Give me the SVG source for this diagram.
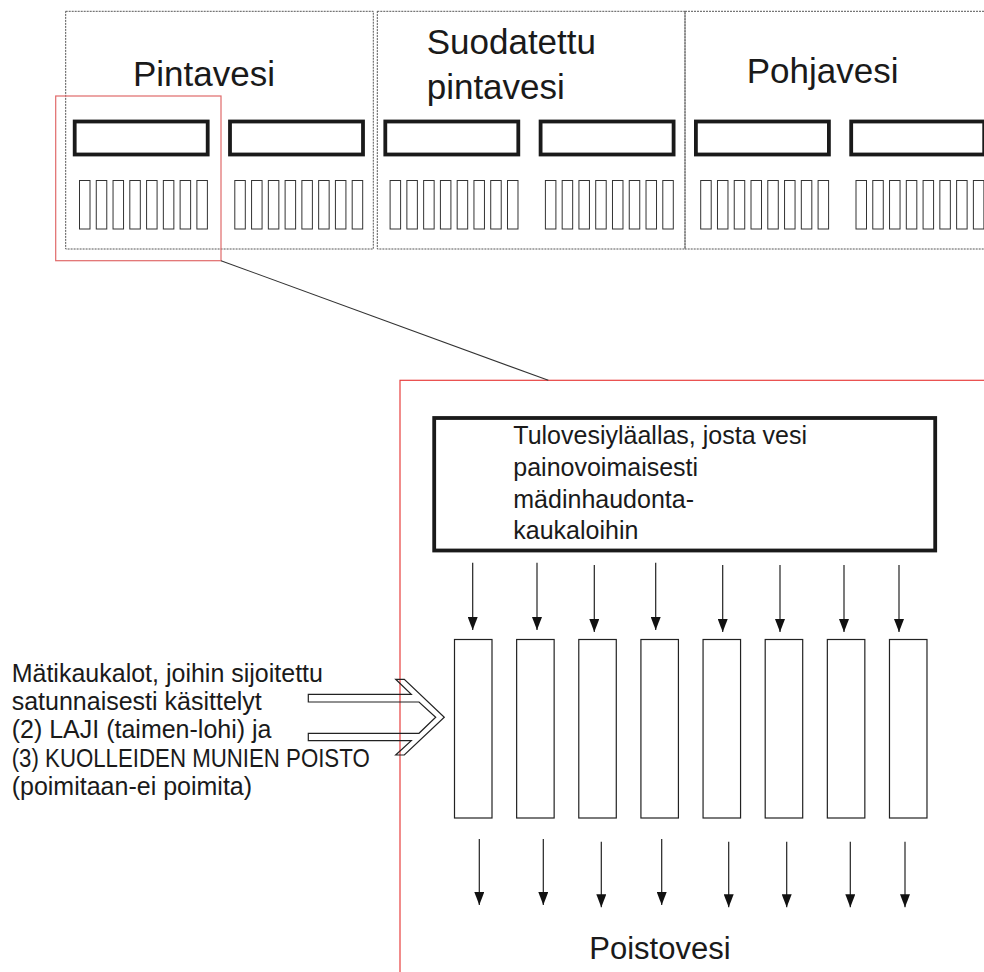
<svg xmlns="http://www.w3.org/2000/svg" xmlns:xlink="http://www.w3.org/1999/xlink" width="984" height="972" viewBox="0 0 984 972">
<style>
  text { font-family: "Liberation Sans", Arial, sans-serif; fill: #1a1a1a; }
  .lbl { font-size: 35px; }
  .body { font-size: 25px; }
  .out { font-size: 31px; }
  .dotbox { fill: none; stroke: #555; stroke-width: 1; stroke-dasharray: 2 1; }
  .bold { fill: none; stroke: #1a1a1a; stroke-width: 3.8; }
  .thin { fill: none; stroke: #333; stroke-width: 1; }
  .tank { fill: none; stroke: #222; stroke-width: 1.2; }
  .flow { stroke: #222; stroke-width: 1.2; marker-end: url(#ah); }
  .redS { fill: none; stroke: #e06a6a; stroke-width: 1.2; }
  .redL { fill: none; stroke: #e8403f; stroke-width: 1.2; }
</style>
<defs>
  <marker id="ah" viewBox="0 0 13 10" refX="13" refY="5" markerWidth="13" markerHeight="10" markerUnits="userSpaceOnUse" orient="auto">
    <path d="M0,0 L13,5 L0,10 z" fill="#111"/>
  </marker>
  <g id="miniRow">
    <rect class="thin" x="0" y="180.5" width="10.5" height="48.5"/>
    <rect class="thin" x="16.77" y="180.5" width="10.5" height="48.5"/>
    <rect class="thin" x="33.54" y="180.5" width="10.5" height="48.5"/>
    <rect class="thin" x="50.31" y="180.5" width="10.5" height="48.5"/>
    <rect class="thin" x="67.08" y="180.5" width="10.5" height="48.5"/>
    <rect class="thin" x="83.85" y="180.5" width="10.5" height="48.5"/>
    <rect class="thin" x="100.62" y="180.5" width="10.5" height="48.5"/>
    <rect class="thin" x="117.39" y="180.5" width="10.5" height="48.5"/>
  </g>
</defs>
<rect x="0" y="0" width="984" height="972" fill="#ffffff"/>

<!-- Top overview -->
<g id="overview">
  <g id="pintavesi">
    <rect class="dotbox" x="65.7" y="11.3" width="307.6" height="237.7"/>
    <text class="lbl" x="133" y="86">Pintavesi</text>
    <rect class="bold" x="74.7" y="121.5" width="133" height="33"/>
    <rect class="bold" x="230" y="121.5" width="133" height="33"/>
    <use xlink:href="#miniRow" href="#miniRow" x="79.5" y="0"/>
    <use xlink:href="#miniRow" href="#miniRow" x="234.8" y="0"/>
  </g>
  <g id="suodatettu">
    <rect class="dotbox" x="377.3" y="11.3" width="307.7" height="237.7"/>
    <text class="lbl" x="426.7" y="54">Suodatettu</text>
    <text class="lbl" x="426.7" y="99">pintavesi</text>
    <rect class="bold" x="385.3" y="121.5" width="133" height="33"/>
    <rect class="bold" x="540.6" y="121.5" width="133" height="33"/>
    <use xlink:href="#miniRow" href="#miniRow" x="390.1" y="0"/>
    <use xlink:href="#miniRow" href="#miniRow" x="545.4" y="0"/>
  </g>
  <g id="pohjavesi">
    <rect class="dotbox" x="685" y="11.3" width="320" height="237.7"/>
    <text class="lbl" x="746.7" y="83.3">Pohjavesi</text>
    <rect class="bold" x="695.9" y="121.5" width="133" height="33"/>
    <rect class="bold" x="851.2" y="121.5" width="133" height="33"/>
    <use xlink:href="#miniRow" href="#miniRow" x="700.7" y="0"/>
    <use xlink:href="#miniRow" href="#miniRow" x="856" y="0"/>
  </g>
  <rect id="zoomSource" class="redS" x="55.7" y="96" width="165.3" height="164.7"/>
</g>

<!-- Detail view -->
<rect id="zoomFrame" class="redL" x="400" y="380.3" width="700" height="700"/>

<g id="connectors">
  <line x1="221" y1="260.7" x2="548.3" y2="380.3" stroke="#333" stroke-width="1.1"/>
  <line class="flow" x1="472.7" y1="562.7" x2="472.7" y2="630"/>
  <line class="flow" x1="537" y1="562.7" x2="537" y2="630"/>
  <line class="flow" x1="594.3" y1="565" x2="594.3" y2="632"/>
  <line class="flow" x1="655.7" y1="562.7" x2="655.7" y2="630"/>
  <line class="flow" x1="722.7" y1="565" x2="722.7" y2="632"/>
  <line class="flow" x1="780" y1="565" x2="780" y2="632"/>
  <line class="flow" x1="844" y1="565" x2="844" y2="632"/>
  <line class="flow" x1="899" y1="565" x2="899" y2="632"/>

  <line class="flow" x1="479.3" y1="839" x2="479.3" y2="905"/>
  <line class="flow" x1="543.3" y1="839" x2="543.3" y2="905"/>
  <line class="flow" x1="601.3" y1="841.7" x2="601.3" y2="907.3"/>
  <line class="flow" x1="661.7" y1="839" x2="661.7" y2="905"/>
  <line class="flow" x1="728.7" y1="841.7" x2="728.7" y2="907.3"/>
  <line class="flow" x1="786.7" y1="841.7" x2="786.7" y2="907.3"/>
  <line class="flow" x1="850.3" y1="841.7" x2="850.3" y2="907.3"/>
  <line class="flow" x1="905" y1="841.7" x2="905" y2="907.3"/>

  <polygon points="308.3,694.3 411.3,694.3 395.7,679.3 404.3,679.3 444.3,717.3 404.3,755 395.7,755 411.3,740.7 308.3,740.7 308.3,733.3 419,733.3 435.7,717.3 419,702 308.3,702" fill="none" stroke="#222" stroke-width="1.2" stroke-linejoin="miter"/>
</g>

<g id="headerTank">
  <rect class="bold" x="434.2" y="418" width="501" height="132.5"/>
  <text class="body" x="513.3" y="444">Tulovesiyläallas, josta vesi</text>
  <text class="body" x="513.3" y="476">painovoimaisesti</text>
  <text class="body" x="513.3" y="507.5">mädinhaudonta-</text>
  <text class="body" x="513.3" y="538.5">kaukaloihin</text>
</g>

<g id="troughs">
  <rect class="tank" x="454.5" y="639.5" width="37.5" height="178.5"/>
  <rect class="tank" x="516.64" y="639.5" width="37.5" height="178.5"/>
  <rect class="tank" x="578.78" y="639.5" width="37.5" height="178.5"/>
  <rect class="tank" x="640.92" y="639.5" width="37.5" height="178.5"/>
  <rect class="tank" x="703.06" y="639.5" width="37.5" height="178.5"/>
  <rect class="tank" x="765.2" y="639.5" width="37.5" height="178.5"/>
  <rect class="tank" x="827.34" y="639.5" width="37.5" height="178.5"/>
  <rect class="tank" x="889.48" y="639.5" width="37.5" height="178.5"/>
</g>

<g id="treatmentNote">
  <text class="body" x="11.7" y="681.7">Mätikaukalot, joihin sijoitettu</text>
  <text class="body" x="11.7" y="710">satunnaisesti käsittelyt</text>
  <text class="body" x="11.7" y="738.3">(2) LAJI (taimen-lohi) ja</text>
  <text class="body" x="11.7" y="766.7" textLength="358" lengthAdjust="spacingAndGlyphs">(3) KUOLLEIDEN MUNIEN POISTO</text>
  <text class="body" x="11.7" y="795">(poimitaan-ei poimita)</text>
</g>

<g id="outflow">
  <text class="out" x="589.3" y="959.3">Poistovesi</text>
</g>
</svg>
